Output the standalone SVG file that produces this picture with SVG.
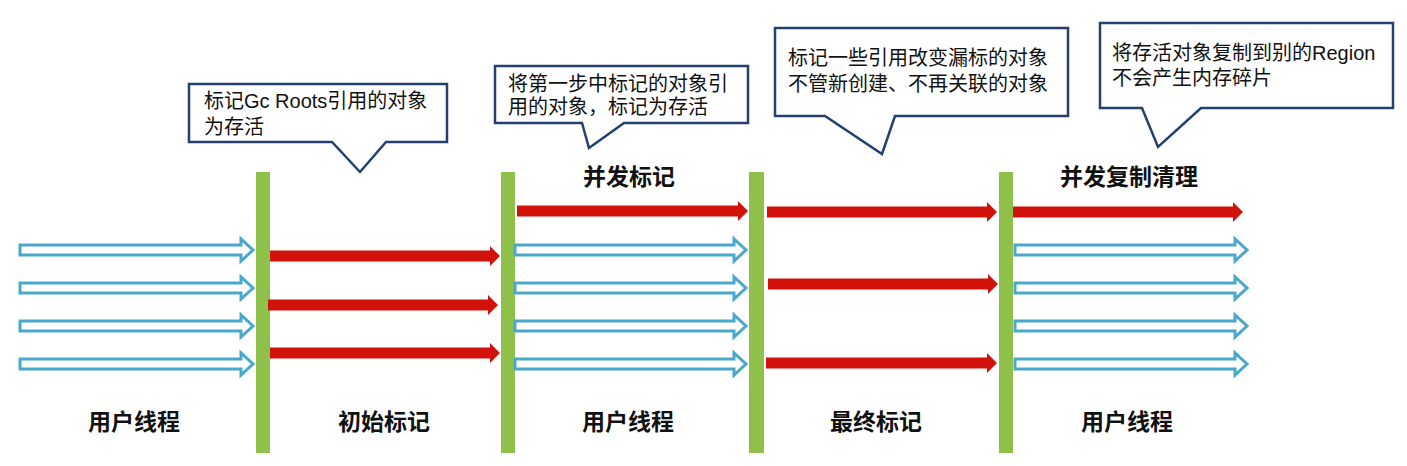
<svg xmlns="http://www.w3.org/2000/svg" width="1407" height="466" viewBox="0 0 1407 466">
<style>
.bar{fill:#8fc14a}
.red{fill:#d0120a}
.blue{fill:#fff;stroke:#4aa8cc;stroke-width:3;stroke-linejoin:miter}
.call{fill:#fff;stroke:#24406e;stroke-width:2.5;stroke-linejoin:miter}
.ct{font-family:"Liberation Sans","Noto Sans CJK SC",sans-serif;font-size:20px;fill:#111}
.lbl{font-family:"Liberation Sans","Noto Sans CJK SC",sans-serif;font-size:23px;font-weight:bold;fill:#111;text-anchor:middle}
</style>
<rect width="1407" height="466" fill="#fff"/>

<g id="bars">
<rect id="bar1" class="bar" x="256" y="172" width="14" height="281"/>
<rect id="bar2" class="bar" x="501" y="172" width="14" height="281"/>
<rect id="bar3" class="bar" x="749" y="172" width="15" height="281"/>
<rect id="bar4" class="bar" x="999" y="172" width="14" height="281"/>
</g>

<g id="connectors">
<!-- section 1: user threads -->
<path class="blue" d="M20,245 H241 V239 L253,250 L241,261 V255 H20 Z"/>
<path class="blue" d="M20,283 H241 V277 L253,288 L241,299 V293 H20 Z"/>
<path class="blue" d="M20,321 H241 V315 L253,326 L241,337 V331 H20 Z"/>
<path class="blue" d="M20,359 H241 V353 L253,364 L241,375 V369 H20 Z"/>
<!-- section 2: initial mark -->
<path class="red" d="M270,250.5 H490 V246 L500,256 L490,266 V261.5 H270 Z"/>
<path class="red" d="M268,299.5 H488 V295 L498,305 L488,315 V310.5 H268 Z"/>
<path class="red" d="M270,347.5 H490 V343 L500,353 L490,363 V358.5 H270 Z"/>
<!-- section 3: concurrent mark -->
<path class="red" d="M517,205.5 H738 V201 L748,211 L738,221 V216.5 H517 Z"/>
<path class="blue" d="M515,245 H734 V239 L746,250 L734,261 V255 H515 Z"/>
<path class="blue" d="M515,283 H734 V277 L746,288 L734,299 V293 H515 Z"/>
<path class="blue" d="M515,321 H734 V315 L746,326 L734,337 V331 H515 Z"/>
<path class="blue" d="M515,359 H734 V353 L746,364 L734,375 V369 H515 Z"/>
<!-- section 4: final mark -->
<path class="red" d="M767,206.5 H987 V202 L997,212 L987,222 V217.5 H767 Z"/>
<path class="red" d="M768,278.5 H988 V274 L998,284 L988,294 V289.5 H768 Z"/>
<path class="red" d="M766,357.5 H987 V353 L997,363 L987,373 V368.5 H766 Z"/>
<!-- section 5: concurrent copy/cleanup -->
<path class="red" d="M1013,206.5 H1233 V202 L1243,212 L1233,222 V217.5 H1013 Z"/>
<path class="blue" d="M1015,245 H1235 V239 L1247,250 L1235,261 V255 H1015 Z"/>
<path class="blue" d="M1015,283 H1235 V277 L1247,288 L1235,299 V293 H1015 Z"/>
<path class="blue" d="M1015,321 H1235 V315 L1247,326 L1235,337 V331 H1015 Z"/>
<path class="blue" d="M1015,359 H1235 V353 L1247,364 L1235,375 V369 H1015 Z"/>
</g>

<g id="callout1">
<path class="call" d="M189,84 H447 V142 H386 L360,172 L332,142 H189 Z"/>
<text class="ct" x="204" y="108">标记Gc Roots引用的对象</text>
<text class="ct" x="204" y="134">为存活</text>
</g>
<g id="callout2">
<path class="call" d="M495,66 H748 V123 H624 L589,148 L582,123 H495 Z"/>
<text class="ct" x="508" y="91">将第一步中标记的对象引</text>
<text class="ct" x="508" y="114">用的对象，标记为存活</text>
</g>
<g id="callout3">
<path class="call" d="M775,28 H1068 V116 H895 L882,154 L825,116 H775 Z"/>
<text class="ct" x="788" y="65">标记一些引用改变漏标的对象</text>
<text class="ct" x="788" y="91">不管新创建、不再关联的对象</text>
</g>
<g id="callout4">
<path class="call" d="M1100,23 H1393 V108 H1201 L1158,147 L1142,108 H1100 Z"/>
<text class="ct" x="1112" y="60">将存活对象复制到别的Region</text>
<text class="ct" x="1112" y="85">不会产生内存碎片</text>
</g>

<g id="title-concurrent-mark"><text class="lbl" x="629" y="185">并发标记</text></g>
<g id="title-concurrent-copy"><text class="lbl" x="1129" y="185">并发复制清理</text></g>

<g id="label1"><text class="lbl" x="134" y="430">用户线程</text></g>
<g id="label2"><text class="lbl" x="384" y="430">初始标记</text></g>
<g id="label3"><text class="lbl" x="628" y="430">用户线程</text></g>
<g id="label4"><text class="lbl" x="876" y="430">最终标记</text></g>
<g id="label5"><text class="lbl" x="1127" y="430">用户线程</text></g>
</svg>
